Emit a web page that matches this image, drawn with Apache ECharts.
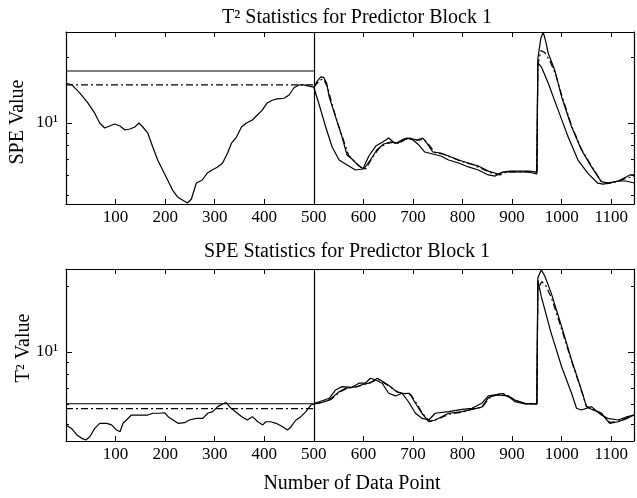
<!DOCTYPE html>
<html><head><meta charset="utf-8">
<script src="https://cdn.jsdelivr.net/npm/echarts@6/dist/echarts.min.js"></script>
<style>html,body{margin:0;padding:0;background:#fff}#c{width:637px;height:498px}</style>
</head><body><div id="c"></div>
<script>
const FONT = "'Liberation Serif','Times New Roman',serif";

// ---------- data (x = data point index, y = statistic value) ----------
const splitPoint = 500;
const xMax = 1146;
const yTickValue = 10;

// upper panel
const topTrain = [[0,15.8],[12,15.5],[28,14.1],[44,12.6],[58,11.2],[68,10.0],[78,9.44],[88,9.66],[98,9.89],[109,9.66],[119,9.23],[129,9.33],[139,9.55],[147,10.0],[155,9.55],[165,8.91],[175,7.59],[185,6.53],[195,5.82],[205,5.19],[215,4.62],[225,4.27],[235,4.12],[245,3.98],[253,4.17],[263,5.01],[275,5.19],[285,5.62],[295,5.82],[306,6.03],[316,6.31],[326,7.08],[334,7.94],[344,8.51],[354,9.55],[364,10.0],[376,10.35],[386,10.96],[396,11.6],[406,12.6],[416,13.0],[426,13.2],[440,13.3],[450,13.8],[460,15.0],[470,15.5],[480,15.5],[490,15.3],[500,15.1]];
const topActual = [[500,15.1],[507,16.2],[514,17.0],[520,16.9],[526,15.8],[531,13.5],[544,10.7],[557,8.51],[567,6.92],[577,6.61],[591,6.09],[601,5.89],[614,6.53],[627,7.33],[641,7.85],[655,8.04],[667,7.94],[681,8.32],[693,8.41],[708,8.22],[720,8.41],[728,7.94],[740,7.16],[756,7.08],[772,6.84],[792,6.53],[812,6.31],[832,6.09],[852,5.75],[872,5.56],[882,5.69],[896,5.75],[913,5.75],[933,5.75],[950,5.69],[952,21.0],[958,26.5],[963,28.4],[968,25.5],[973,22.3],[986,18.4],[1000,13.5],[1020,9.58],[1040,7.33],[1060,6.05],[1080,5.09],[1093,5.01],[1114,5.13],[1130,5.37],[1138,5.50],[1146,5.50]];
const topModelA = [[500,15.1],[511,12.3],[524,9.55],[537,7.59],[551,6.53],[564,6.24],[584,5.82],[599,5.89],[611,6.84],[625,7.67],[639,8.04],[651,8.41],[663,7.94],[675,8.04],[687,8.41],[700,8.22],[712,7.76],[724,7.16],[740,7.00],[756,6.84],[772,6.53],[792,6.31],[812,6.03],[832,5.82],[852,5.50],[866,5.43],[882,5.69],[896,5.69],[913,5.69],[933,5.69],[950,5.56],[952,20.0],[959,19.1],[973,15.8],[993,11.6],[1013,8.54],[1033,6.53],[1053,5.60],[1073,5.00],[1083,4.95],[1098,5.01],[1114,5.13],[1130,5.13],[1146,5.01]];
const topModelB = [[500,15.1],[512,16.4],[520,16.6],[528,15.0],[536,12.6],[548,10.0],[560,8.2],[570,6.9],[580,6.5],[595,6.0],[605,5.9],[618,6.7],[632,7.5],[646,7.9],[660,8.0],[672,7.9],[685,8.3],[697,8.3],[712,8.2],[722,8.3],[732,7.8],[745,7.1],[760,7.0],[780,6.7],[800,6.4],[820,6.2],[840,5.9],[860,5.6],[876,5.5],[890,5.7],[910,5.7],[930,5.7],[950,5.6],[952,19.5],[958,23.0],[966,22.5],[976,20.5],[988,17.5],[1000,13.8],[1020,9.7],[1040,7.4],[1060,6.1],[1080,5.1],[1095,5.0],[1115,5.1],[1130,5.3],[1146,5.4]];
const topLimitSolid = 18.2;
const topLimitDash = 15.5;
const topRange = [3.936, 28.51];

// lower panel
const botTrain = [[0,4.32],[11,4.15],[22,3.85],[32,3.70],[40,3.63],[48,3.77],[58,4.15],[68,4.40],[82,4.40],[92,4.32],[102,4.07],[109,3.99],[115,4.40],[122,4.57],[132,4.84],[149,4.84],[165,4.84],[175,4.94],[189,4.94],[199,4.97],[206,4.75],[216,4.57],[226,4.40],[239,4.43],[249,4.57],[263,4.66],[276,4.66],[286,4.94],[296,5.03],[306,5.33],[316,5.50],[323,5.58],[333,5.23],[346,4.94],[356,4.72],[366,4.57],[376,4.75],[387,4.48],[397,4.32],[403,4.48],[413,4.48],[424,4.40],[437,4.23],[447,4.07],[454,4.23],[464,4.57],[474,4.75],[484,5.03],[494,5.43],[500,5.50]];
const botActual = [[500,5.50],[511,5.54],[531,5.75],[550,6.30],[565,6.60],[585,6.70],[600,6.90],[614,7.00],[628,7.39],[640,7.10],[655,6.70],[668,6.30],[681,6.20],[693,6.22],[705,5.54],[718,4.94],[732,4.48],[745,4.57],[772,4.94],[799,5.03],[819,5.17],[839,5.30],[852,5.90],[866,6.10],[880,6.20],[892,5.98],[906,5.75],[926,5.54],[950,5.50],[952,23.5],[959,25.8],[966,24.0],[979,19.7],[1000,13.4],[1020,9.12],[1040,6.46],[1050,5.33],[1060,5.17],[1080,4.94],[1097,4.40],[1114,4.48],[1133,4.66],[1146,4.84]];
const botModelA = [[500,5.54],[511,5.64],[531,5.87],[544,6.46],[557,6.71],[577,6.66],[591,6.98],[604,6.98],[614,7.39],[625,7.24],[638,6.98],[651,6.22],[665,6.03],[678,6.22],[691,5.64],[705,4.94],[718,4.66],[732,4.57],[745,4.94],[772,5.03],[799,5.17],[819,5.23],[839,5.54],[852,6.03],[866,6.10],[892,6.03],[906,5.64],[926,5.50],[950,5.50],[952,22.9],[959,18.9],[979,12.4],[1000,8.44],[1020,6.22],[1030,5.23],[1040,5.13],[1060,5.33],[1080,4.84],[1093,4.66],[1114,4.57],[1133,4.75],[1146,4.84]];
const botModelB = [[500,5.50],[515,5.6],[535,5.8],[552,6.3],[568,6.6],[588,6.7],[603,6.9],[617,7.1],[630,7.3],[642,7.0],[657,6.6],[670,6.3],[684,6.2],[696,6.1],[708,5.5],[720,4.9],[734,4.5],[748,4.6],[775,4.9],[800,5.0],[820,5.2],[840,5.3],[854,5.9],[868,6.1],[882,6.2],[894,6.0],[908,5.7],[928,5.5],[950,5.5],[952,20.5],[960,22.5],[968,21.5],[980,18.5],[1000,13.0],[1020,9.0],[1040,6.4],[1050,5.35],[1060,5.2],[1080,4.95],[1097,4.45],[1114,4.5],[1133,4.7],[1146,4.85]];
const botLimitSolid = 5.51;
const botLimitDash = 5.21;
const botRange = [3.589, 26.0];

// ---------- chart ----------
const DASHDOT = [7, 3, 2, 3];
function lineSeries(data, xi, yi, dash, extra) {
  return Object.assign({
    type: 'line', data: data, xAxisIndex: xi, yAxisIndex: yi,
    showSymbol: false, symbol: 'none', silent: true, clip: true,
    lineStyle: { color: '#000', width: 1.2, type: dash ? DASHDOT : 'solid' }
  }, extra || {});
}
function vline() {
  return { silent: true, symbol: ['none', 'none'], label: { show: false },
    lineStyle: { color: '#000', width: 1.2, type: 'solid' }, data: [{ xAxis: splitPoint }] };
}
function xAx(grid, pos, labels) {
  return { type: 'value', gridIndex: grid, position: pos, min: 0, max: xMax, interval: 100,
    axisLine: { show: true, onZero: false, lineStyle: { color: '#000', width: 1.2 } },
    axisTick: { show: true, inside: true, length: 5, lineStyle: { color: '#000' } },
    axisLabel: { show: labels, color: '#000', fontFamily: FONT, fontSize: 17, margin: 5,
      formatter: v => (v > 0 && v % 100 === 0) ? String(v) : '' },
    splitLine: { show: false } };
}
function yAx(grid, pos, range, labels) {
  return { type: 'log', logBase: 10, gridIndex: grid, position: pos, min: range[0], max: range[1],
    axisLine: { show: true, onZero: false, lineStyle: { color: '#000', width: 1.2 } },
    axisTick: { show: true, inside: true, length: 6, lineStyle: { color: '#000' } },
    minorTick: { show: true, splitNumber: 8, length: 3, lineStyle: { color: '#000' } },
    axisLabel: { show: labels, color: '#000', fontFamily: FONT, fontSize: 17, margin: 8,
      formatter: v => Math.abs(v - yTickValue) < 1e-6 ? '10\u00B9' : '' },
    splitLine: { show: false }, minorSplitLine: { show: false } };
}
function seg(v) { return [[0, v], [splitPoint, v]]; }

const chart = echarts.init(document.getElementById('c'), null, { renderer: 'canvas' });
chart.setOption({
  animation: false,
  backgroundColor: '#fff',
  grid: [
    { left: 66, top: 32, width: 570, height: 172 },
    { left: 66, top: 269, width: 570, height: 172 }
  ],
  xAxis: [xAx(0, 'bottom', true), xAx(0, 'top', false), xAx(1, 'bottom', true), xAx(1, 'top', false)],
  yAxis: [yAx(0, 'left', topRange, true), yAx(0, 'right', topRange, false),
          yAx(1, 'left', botRange, true), yAx(1, 'right', botRange, false)],
  series: [
    lineSeries(seg(topLimitSolid), 0, 0, false),
    lineSeries(seg(topLimitDash), 0, 0, true),
    lineSeries(topTrain, 0, 0, false, { markLine: vline() }),
    lineSeries(topActual, 0, 0, false),
    lineSeries(topModelA, 0, 0, false),
    lineSeries(topModelB, 0, 0, true),
    lineSeries(seg(botLimitSolid), 2, 2, false),
    lineSeries(seg(botLimitDash), 2, 2, true),
    lineSeries(botTrain, 2, 2, false, { markLine: vline() }),
    lineSeries(botActual, 2, 2, false),
    lineSeries(botModelA, 2, 2, false),
    lineSeries(botModelB, 2, 2, true)
  ],
  graphic: [
    { type: 'text', x: 357, y: 18, style: { text: 'T\u00B2 Statistics for Predictor Block 1', font: '20px ' + FONT, fill: '#000', align: 'center', verticalAlign: 'middle' } },
    { type: 'text', x: 347, y: 252, style: { text: 'SPE Statistics for Predictor Block 1', font: '20px ' + FONT, fill: '#000', align: 'center', verticalAlign: 'middle' } },
    { type: 'text', x: 352, y: 484, style: { text: 'Number of Data Point', font: '20px ' + FONT, fill: '#000', align: 'center', verticalAlign: 'middle' } },
    { type: 'text', x: 18, y: 122, rotation: Math.PI / 2, style: { text: 'SPE Value', font: '20px ' + FONT, fill: '#000', align: 'center', verticalAlign: 'middle' } },
    { type: 'text', x: 24, y: 348, rotation: Math.PI / 2, style: { text: 'T\u00B2 Value', font: '20px ' + FONT, fill: '#000', align: 'center', verticalAlign: 'middle' } }
  ]
});
</script></body></html>
